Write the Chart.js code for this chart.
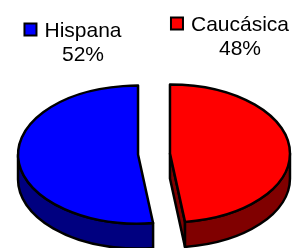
<!DOCTYPE html>
<html>
<head>
<meta charset="utf-8">
<script src="https://cdn.jsdelivr.net/npm/chart.js@4.4.1/dist/chart.umd.min.js"></script>
<style>
  html, body { margin: 0; padding: 0; background: #fff; }
  #wrap { width: 298px; height: 248px; }
</style>
</head>
<body>
<div id="wrap"><canvas id="myChart" width="298" height="248"></canvas></div>
<script>
// Data
const labels = ["Caucásica", "Hispana"];
const values = [48, 52];

// Style
const topColors = ["#ff0000", "#0000ff"];
const sideColors = ["#800000", "#000080"];
const TILT = 0.575; // vertical squash of the pie
const DEPTH = 25; // thickness of the pie
const labelAnchors = [
  { x: 240, y: 31 },
  { x: 83, y: 37 },
];

// draws a pseudo 3d pie from the arc elements the pie controller laid out
const pie3d = {
  id: "pie3d",
  beforeDatasetsDraw(chart) {
    const ctx = chart.ctx;
    const arcs = chart.getDatasetMeta(0).data;
    const slices = arcs.map((arc, i) => {
      const mid = (arc.startAngle + arc.endAngle) / 2;
      const off = arc.options.offset || 0;
      return {
        i,
        cx: arc.x + Math.cos(mid) * off,
        cy: arc.y + Math.sin(mid) * off * TILT,
        rx: arc.outerRadius,
        ry: arc.outerRadius * TILT,
        a1: arc.startAngle,
        a2: arc.endAngle,
        fill: arc.options.backgroundColor,
      };
    });
    ctx.save();
    ctx.lineWidth = 2.5;
    ctx.strokeStyle = "#000";
    ctx.lineJoin = "round";
    // sides
    slices.forEach((s) => {
      ctx.fillStyle = sideColors[s.i];
      const edges = [];
      if (-Math.cos(s.a1) > 0.01) edges.push(s.a1);
      if (Math.cos(s.a2) > 0.01) edges.push(s.a2);
      edges.forEach((a) => {
        const ex = s.cx + s.rx * Math.cos(a);
        const ey = s.cy + s.ry * Math.sin(a);
        ctx.beginPath();
        ctx.moveTo(s.cx, s.cy);
        ctx.lineTo(ex, ey);
        ctx.lineTo(ex, ey + DEPTH);
        ctx.lineTo(s.cx, s.cy + DEPTH);
        ctx.closePath();
        ctx.fill();
        ctx.stroke();
      });
      for (let k = -1; k <= 1; k++) {
        const lo = Math.max(s.a1, 2 * Math.PI * k);
        const hi = Math.min(s.a2, 2 * Math.PI * k + Math.PI);
        if (hi <= lo) continue;
        ctx.beginPath();
        ctx.ellipse(s.cx, s.cy, s.rx, s.ry, 0, lo, hi);
        ctx.ellipse(s.cx, s.cy + DEPTH, s.rx, s.ry, 0, hi, lo, true);
        ctx.closePath();
        ctx.fill();
        ctx.stroke();
      }
    });
    // tops
    slices.forEach((s) => {
      ctx.fillStyle = s.fill;
      ctx.beginPath();
      ctx.moveTo(s.cx, s.cy);
      ctx.ellipse(s.cx, s.cy, s.rx, s.ry, 0, s.a1, s.a2);
      ctx.closePath();
      ctx.fill();
      ctx.stroke();
    });
    ctx.restore();
    return false;
  },
  afterDraw(chart) {
    const ctx = chart.ctx;
    const total = values.reduce((a, b) => a + b, 0);
    ctx.save();
    ctx.font = '21px "Liberation Sans", Arial, sans-serif';
    ctx.textAlign = "center";
    ctx.textBaseline = "alphabetic";
    ctx.lineWidth = 2;
    ctx.strokeStyle = "#000";
    labels.forEach((lab, i) => {
      const a = labelAnchors[i];
      const w = ctx.measureText(lab).width;
      ctx.fillStyle = "#000";
      ctx.fillText(lab, a.x, a.y);
      ctx.fillText(Math.round((values[i] / total) * 100) + "%", a.x, a.y + 24);
      // legend key
      const kx = a.x - w / 2 - 7 - 14;
      const ky = a.y - 14.5;
      ctx.fillStyle = topColors[i];
      ctx.fillRect(kx + 1, ky + 1, 12, 12);
      ctx.strokeRect(kx + 1, ky + 1, 12, 12);
    });
    ctx.restore();
  },
};

const ctx = document.getElementById("myChart");
new Chart(ctx, {
  type: "pie",
  data: {
    labels: labels,
    datasets: [
      {
        data: values,
        backgroundColor: topColors,
        borderColor: "#000",
        borderWidth: 2,
        offset: 16,
      },
    ],
  },
  options: {
    responsive: false,
    animation: false,
    devicePixelRatio: 1,
    radius: 120,
    layout: {
      padding: { left: 34, right: 24, top: 60, bottom: 0 },
    },
    plugins: {
      legend: { display: false },
      tooltip: { enabled: false },
    },
  },
  plugins: [pie3d],
});
</script>
</body>
</html>
